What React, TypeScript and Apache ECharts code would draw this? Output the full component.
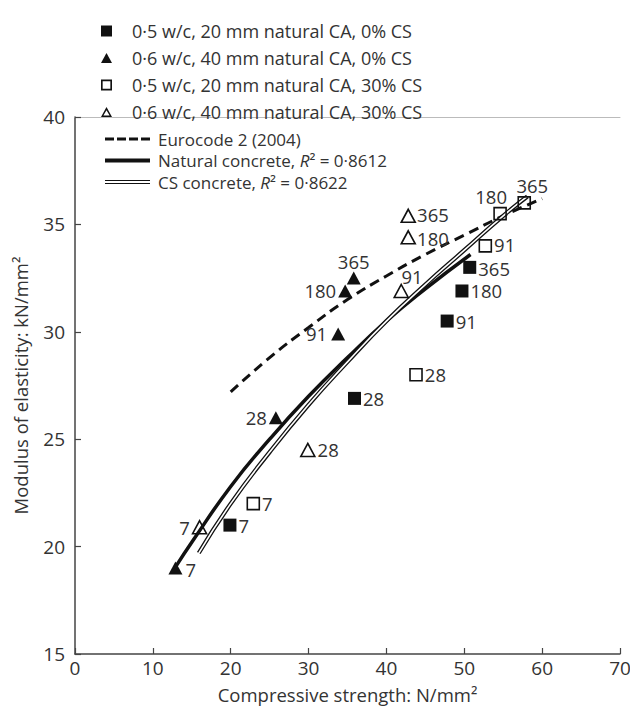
import React, { useEffect, useRef } from 'react';
import * as echarts from 'echarts';

// ---- data ----
const ages = ['7', '28', '91', '180', '365'];

const fsqX = [19.9, 35.9, 47.8, 49.7, 50.7];
const fsqY = [21.0, 26.9, 30.5, 31.9, 33.0];
const ftrX = [12.9, 25.8, 33.8, 34.7, 35.8];
const ftrY = [19.0, 26.0, 29.9, 31.9, 32.5];
const osqX = [22.9, 43.8, 52.7, 54.6, 57.7];
const osqY = [22.0, 28.0, 34.0, 35.5, 36.0];
const otrX = [16.0, 29.9, 41.9, 42.8, 42.8];
const otrY = [20.9, 24.5, 31.9, 34.4, 35.4];

const naturalX = [13, 15, 20, 25, 30, 35, 40, 45, 50.8];
const naturalY = [19.1, 20.2, 22.8, 25.0, 27.0, 28.8, 30.5, 32.0, 33.6];
const csX = [15.9, 20, 25, 30, 35, 40, 45, 50, 55, 58.1];
const csY = [19.7, 22.0, 24.4, 26.6, 28.6, 30.5, 32.2, 33.8, 35.4, 36.3];
const euroX = [20, 25, 30, 35, 40, 45, 50, 55, 60];
const euroY = [27.2, 28.8, 30.2, 31.5, 32.6, 33.6, 34.5, 35.4, 36.2];

const xTicks = { min: 0, max: 70, interval: 10 };
const yTicks = { min: 15, max: 40, interval: 5 };

const S1 = '0·5 w/c, 20 mm natural CA, 0% CS';
const S2 = '0·6 w/c, 40 mm natural CA, 0% CS';
const S3 = '0·5 w/c, 20 mm natural CA, 30% CS';
const S4 = '0·6 w/c, 40 mm natural CA, 30% CS';
const L1 = 'Eurocode 2 (2004)';
const L2 = 'Natural concrete, R² = 0·8612';
const L3 = 'CS concrete, R² = 0·8622';

// ---- styling ----
const FONT = 'Open Sans';
const TXT = '#333';
const INK = '#111';

type Place = { position: any; distance?: number; offset?: number[] };
const fsqPlace: Place[] = [
  { position: 'right', distance: 2 },
  { position: 'right', distance: 2 },
  { position: 'right', distance: 2 },
  { position: 'right', distance: 2 },
  { position: 'right', distance: 2, offset: [0, 1] },
];
const ftrPlace: Place[] = [
  { position: 'right', distance: 3, offset: [0, 1] },
  { position: 'left', distance: 2 },
  { position: 'left', distance: 4 },
  { position: 'left', distance: 2 },
  { position: 'top', distance: 2 },
];
const osqPlace: Place[] = [
  { position: 'right', distance: 2 },
  { position: 'right', distance: 2 },
  { position: 'right', distance: 2, offset: [0, -1] },
  { position: 'top', distance: 2, offset: [-9, 0] },
  { position: 'top', distance: 3, offset: [8, 0] },
];
const otrPlace: Place[] = [
  { position: 'left', distance: 2 },
  { position: 'right', distance: 2 },
  { position: [8, -15] },
  { position: 'right', distance: 1, offset: [0, 1] },
  { position: 'right', distance: 1, offset: [0, -1] },
];

const sqIcon = 'path://M0,0h10v10h-10z';
const sqOpenIcon = 'path://M0,0h10v10h-10z M1.5,1.5v7h7v-7z';
const trIcon = 'path://M5,0L10,9L0,9z';
const trOpenIcon = 'path://M5,0L10,9L0,9z M5,2.9L2.2,7.7L7.8,7.7z';
const dashIcon = 'path://M0,0h9v3h-9z M12,0h9v3h-9z M24,0h9v3h-9z M36,0h9v3h-9z';
const thickIcon = 'path://M0,0h45v4h-45z';
const doubleIcon = 'path://M0,0h45v1.2h-45z M0,3h45v1.2h-45z';

function pts(xs: number[], ys: number[]) {
  return xs.map((x, i) => [x, ys[i]]);
}

function scatterData(xs: number[], ys: number[], place: Place[]) {
  return xs.map((x, i) => ({
    value: [x, ys[i]],
    label: { ...place[i] },
  }));
}

const labelBase = {
  show: true,
  formatter: (p: any) => ages[p.dataIndex],
  fontFamily: FONT,
  fontSize: 18.5,
  lineHeight: 16,
  color: TXT,
};

function buildOption() {
  return {
    animation: false,
    textStyle: { fontFamily: FONT },
    grid: { left: 75, right: 10, top: 117, bottom: 54, containLabel: false, outerBoundsMode: 'none' },
    legend: [
      {
        orient: 'vertical',
        left: 96,
        top: 16,
        itemWidth: 11,
        itemHeight: 11,
        itemGap: 7,
        symbolKeepAspect: true,
        selectedMode: false,
        textStyle: { fontFamily: FONT, fontSize: 18, color: TXT, lineHeight: 20, padding: [0, 0, 0, 15] },
        data: [
          { name: S1, icon: sqIcon, itemStyle: { color: INK, borderWidth: 0 } },
          { name: S2, icon: trIcon, itemStyle: { color: INK, borderWidth: 0 } },
          { name: S3, icon: sqOpenIcon, itemStyle: { color: INK, borderWidth: 0 } },
          { name: S4, icon: trOpenIcon, itemStyle: { color: INK, borderWidth: 0 } },
        ],
      },
      {
        orient: 'vertical',
        left: 100,
        top: 124,
        itemWidth: 45,
        itemHeight: 14,
        itemGap: 1.5,
        symbolKeepAspect: true,
        selectedMode: false,
        formatter: (name: string) => name.replace('R²', '{i|R}²'),
        textStyle: {
          fontFamily: FONT,
          fontSize: 17,
          color: TXT,
          lineHeight: 20,
          padding: [0, 0, 0, 3],
          rich: {
            i: { fontFamily: FONT, fontSize: 17, fontStyle: 'italic', color: TXT, lineHeight: 20 },
          },
        },
        data: [
          { name: L1, icon: dashIcon, itemStyle: { color: INK, borderWidth: 0 } },
          { name: L2, icon: thickIcon, itemStyle: { color: INK, borderWidth: 0 } },
          { name: L3, icon: doubleIcon, itemStyle: { color: INK, borderWidth: 0 } },
        ],
      },
    ],
    xAxis: [
      {
        type: 'value',
        ...xTicks,
        name: 'Compressive strength: N/mm²',
        nameLocation: 'middle',
        nameGap: 31,
        nameTextStyle: { fontFamily: FONT, fontSize: 18.5, color: TXT },
        axisLine: { show: true, lineStyle: { color: '#444', width: 1.5 } },
        axisTick: { show: true, inside: true, length: 6, lineStyle: { color: '#444', width: 1.2 } },
        axisLabel: { fontFamily: FONT, fontSize: 19, color: TXT, margin: 4 },
        splitLine: { show: false },
      },
      {
        type: 'value',
        position: 'top',
        ...xTicks,
        axisLine: { show: true, onZero: false, lineStyle: { color: '#bbb', width: 1 } },
        axisTick: { show: false },
        axisLabel: { show: false },
        splitLine: { show: false },
      },
    ],
    yAxis: {
      type: 'value',
      ...yTicks,
      name: 'Modulus of elasticity: kN/mm²',
      nameLocation: 'middle',
      nameRotate: 90,
      nameGap: 45,
      nameTextStyle: { fontFamily: FONT, fontSize: 18.5, color: TXT },
      axisLine: { show: true, lineStyle: { color: '#444', width: 1.5 } },
      axisTick: { show: true, inside: true, length: 6, lineStyle: { color: '#444', width: 1.2 } },
      axisLabel: { fontFamily: FONT, fontSize: 19, color: TXT, margin: 10 },
      splitLine: { show: false },
    },
    series: [
      {
        name: L1,
        type: 'line',
        smooth: true,
        showSymbol: false,
        symbol: 'none',
        data: pts(euroX, euroY),
        lineStyle: { color: INK, width: 3, type: [10, 6] },
        itemStyle: { color: INK },
        z: 2,
      },
      {
        name: L2,
        type: 'line',
        smooth: true,
        showSymbol: false,
        symbol: 'none',
        data: pts(naturalX, naturalY),
        lineStyle: { color: INK, width: 3.5 },
        itemStyle: { color: INK },
        z: 2,
      },
      {
        name: L3,
        type: 'line',
        smooth: true,
        showSymbol: false,
        symbol: 'none',
        data: pts(csX, csY),
        lineStyle: { color: INK, width: 4.2 },
        itemStyle: { color: INK },
        z: 2,
      },
      {
        name: 'cs-inner',
        type: 'line',
        smooth: true,
        showSymbol: false,
        symbol: 'none',
        data: pts(csX, csY),
        lineStyle: { color: '#fff', width: 1.6 },
        itemStyle: { color: '#fff' },
        z: 3,
      },
      {
        name: S1,
        type: 'scatter',
        symbol: 'rect',
        symbolSize: 13,
        data: scatterData(fsqX, fsqY, fsqPlace),
        itemStyle: { color: INK, opacity: 1 },
        label: labelBase,
        z: 5,
      },
      {
        name: S2,
        type: 'scatter',
        symbol: 'triangle',
        symbolSize: [14, 13],
        data: scatterData(ftrX, ftrY, ftrPlace),
        itemStyle: { color: INK, opacity: 1 },
        label: labelBase,
        z: 5,
      },
      {
        name: S3,
        type: 'scatter',
        symbol: 'rect',
        symbolSize: 12,
        data: scatterData(osqX, osqY, osqPlace),
        itemStyle: { color: 'rgba(255,255,255,0)', borderColor: INK, borderWidth: 1.6, opacity: 1 },
        label: labelBase,
        z: 5,
      },
      {
        name: S4,
        type: 'scatter',
        symbol: 'triangle',
        symbolSize: [14, 13],
        data: scatterData(otrX, otrY, otrPlace),
        itemStyle: { color: 'rgba(255,255,255,0)', borderColor: INK, borderWidth: 1.6, opacity: 1 },
        label: labelBase,
        z: 5,
      },
    ],
  };
}

export default function App() {
  const ref = useRef<HTMLDivElement>(null);
  useEffect(() => {
    document.body.style.margin = '0';
    if (!ref.current) return;
    const chart = echarts.init(ref.current, null, { renderer: 'svg' });
    chart.setOption(buildOption() as any);
    return () => {
      chart.dispose();
    };
  }, []);
  return <div ref={ref} style={{ width: 630, height: 708 }} />;
}
